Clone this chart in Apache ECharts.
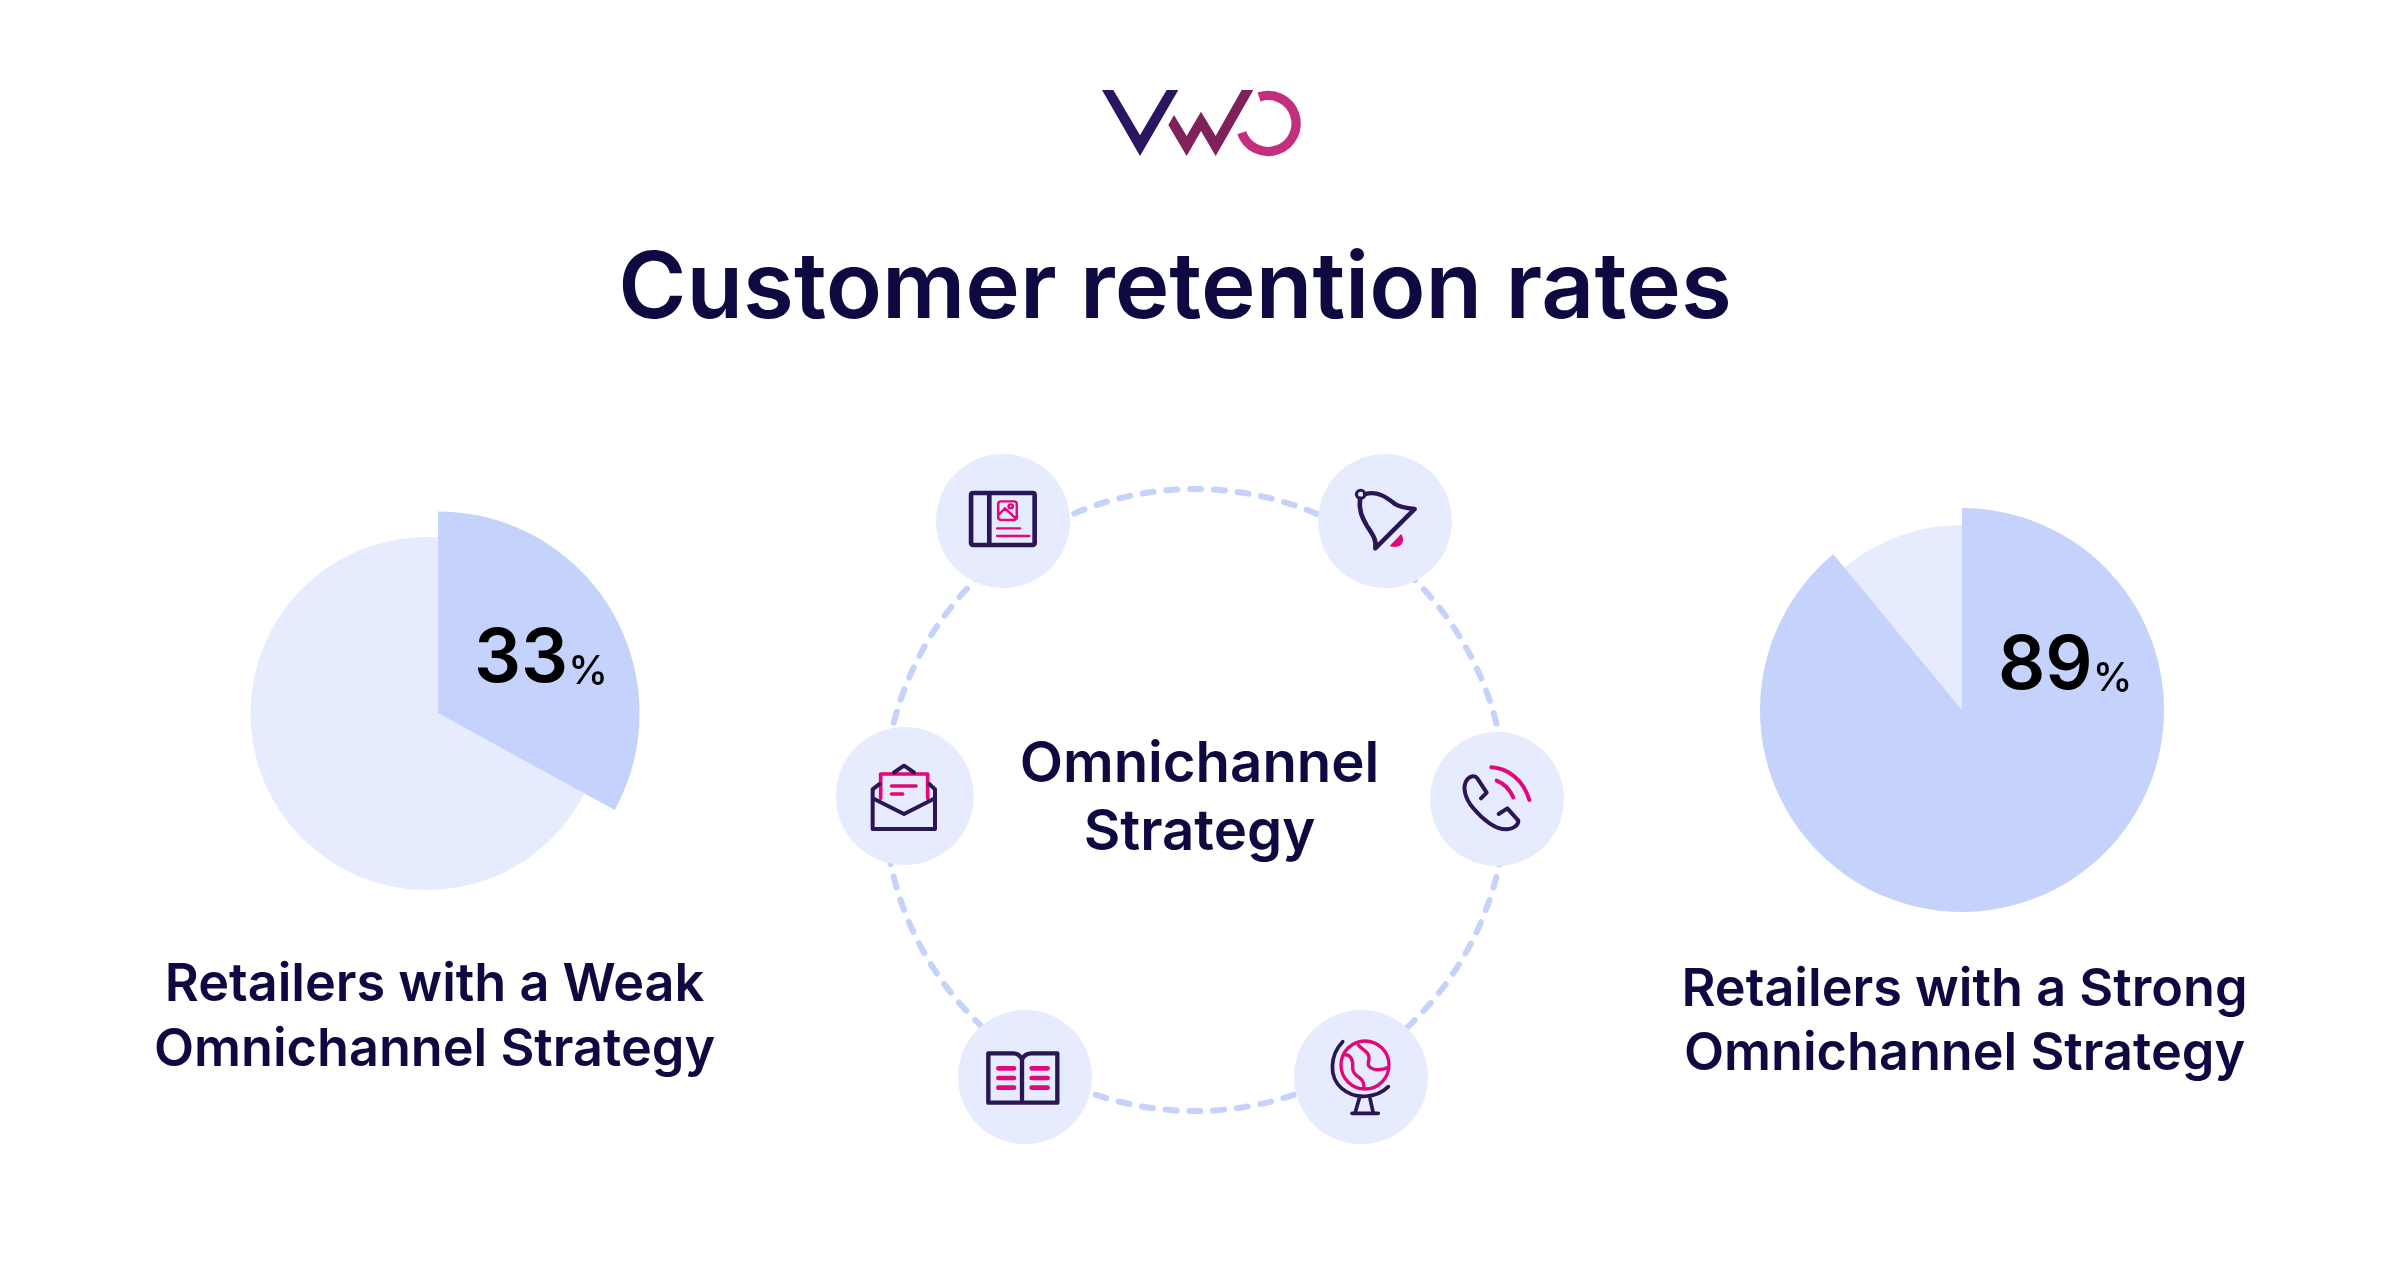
<!DOCTYPE html>
<html>
<head>
<meta charset="utf-8">
<title>Customer retention rates</title>
<script src="https://cdn.jsdelivr.net/npm/echarts@6/dist/echarts.min.js"></script>
<style>
  html, body { margin: 0; padding: 0; background: #fff; }
  #chart { width: 2400px; height: 1280px; }
</style>
</head>
<body>
<div id="chart"></div>
<script>
// chart values
var chartTitle = 'Customer retention rates'
var centerLabel = 'Omnichannel\nStrategy'
var pieLabels = ['Retailers with a Weak\nOmnichannel Strategy', 'Retailers with a Strong\nOmnichannel Strategy']
var retained = [33, 89]
var notRetained = [67, 11]

var INK = '#0e0940'
var NAVY = '#2a1555'
var PINK = '#e2077a'
var DARK_SLICE = '#c5d2fb'
var LIGHT_SLICE = '#e6ebfe'

var myChart = echarts.init(document.getElementById('chart'))

// icons are svg paths, registered as shapes so graphic can use them
var shapeCount = 0
function pathEl(d, stroke, lineWidth, fill) {
  var name = 'iconPath' + (shapeCount++)
  echarts.graphic.registerShape(name, echarts.graphic.extendPath(d, {}))
  return {
    type: name,
    silent: true,
    z: 5,
    style: {
      fill: fill || 'none',
      stroke: stroke || 'none',
      lineWidth: lineWidth || 0,
      lineCap: 'round',
      lineJoin: 'round'
    }
  }
}

// paths below were traced on zoomed crops, so groups scale them back down
function zoomGroup(x, y, children, scaleX) {
  return { type: 'group', x: x, y: y, scaleX: scaleX || 1 / 3, scaleY: 1 / 3, silent: true, children: children }
}

function disc(cx, cy, r) {
  return { type: 'circle', silent: true, z: 3, shape: { cx: cx, cy: cy, r: r }, style: { fill: LIGHT_SLICE } }
}

function textEl(x, y, text, size, weight, lineHeight) {
  return {
    type: 'text', x: x, y: y, silent: true, z: 5,
    style: {
      text: text, fill: INK, align: 'center', verticalAlign: 'middle',
      font: weight + ' ' + size + 'px Inter', lineHeight: lineHeight
    }
  }
}

function percentEl(x, y, value) {
  return {
    type: 'text', x: x, y: y, silent: true, z: 10,
    style: {
      text: '{n|' + value + '}{p|%}',
      align: 'left', verticalAlign: 'middle',
      rich: {
        n: { font: '600 74px Inter', fill: '#000', verticalAlign: 'bottom' },
        p: { font: '500 40px Inter', fill: '#000', verticalAlign: 'bottom', padding: [0, 0, 5, 0] }
      }
    }
  }
}

function pieSeries(center, radius, values, colors) {
  return {
    type: 'pie',
    center: center,
    radius: radius,
    startAngle: 90,
    clockwise: true,
    silent: true,
    animation: false,
    label: { show: false },
    labelLine: { show: false },
    emphasis: { disabled: true },
    data: values.map(function (v, i) {
      return { value: v, itemStyle: { color: colors[i] } }
    })
  }
}

var logo = zoomGroup(1040, 60, [
  { type: 'polygon', silent: true, shape: { points: [[186, 90], [220, 90], [300, 226], [380, 90], [415, 90], [300, 288]] }, style: { fill: '#2c1560' } },
  { type: 'polygon', silent: true, shape: { points: [[385, 195], [402, 165], [440, 228], [483, 155], [527, 228], [605, 90], [640, 90], [527, 288], [483, 213], [440, 288]] }, style: { fill: '#7e2259' } },
  pathEl('M657 111 A84 84 0 1 1 605 218', '#c22f7c', 28)
])
logo.children[2].style.lineCap = 'butt'

// dashed ring behind the six icon discs
var ring = {
  type: 'circle',
  silent: true,
  z: 1,
  shape: { cx: 1195, cy: 800, r: 311 },
  style: { fill: 'none', stroke: DARK_SLICE, lineWidth: 6, lineCap: 'round', lineDash: [11, 12.83], lineDashOffset: -6.4 }
}

var ringDiscs = [
  disc(1003, 521, 67),
  disc(1385, 521, 67),
  disc(904.7, 796, 69),
  disc(1497, 799, 67),
  disc(1025, 1077, 67),
  disc(1361, 1077, 67)
]

// this crop came back 2.8x wide, not 3x
var topIcons = zoomGroup(920, 440, [
  pathEl('M150 159 H315 Q321 159 321 165 V309 Q321 315 315 315 H150 Q143 315 143 309 V165 Q143 159 150 159 Z M194 159 V315', NAVY, 13),
  pathEl('M227 184 H263 Q271 184 271 192 V232 Q271 240 263 240 H227 Q219 240 219 232 V192 Q219 184 227 184 Z M220 225 L238 205 L268 235 M260 199 A6 6 0 1 1 248 199 A6 6 0 1 1 260 199 M216 265 H280 M216 288 H306', PINK, 7),
  pathEl('M1246 163 A12 12 0 1 1 1222 163 A12 12 0 1 1 1246 163', NAVY, 9),
  pathEl('M1246 163 C1280 150 1310 175 1330 192 C1345 203 1365 205 1385 207 L1275 325 C1280 300 1265 280 1250 255 C1238 232 1228 210 1232 176', NAVY, 13),
  pathEl('M1347 282 C1360 300 1350 330 1315 318 Z', null, 0, PINK)
], 1 / 2.8)

var envelopeIcon = zoomGroup(820, 710, [
  pathEl('M182 265 V192 H323 V265 M215 228 H288 M215 252 H248', PINK, 11),
  pathEl('M158 265 V357 H345 V265 M158 265 L252 312 L345 265 M158 238 V265 M345 238 V265 M158 238 L178 222 M345 238 L328 222 M222 187 L252 167 L282 187', NAVY, 12)
])

var phoneIcon = zoomGroup(1420, 710, [
  pathEl('M183 265 L200 248 L172 205 C165 195 150 198 142 208 C125 230 135 265 160 295 C185 325 225 360 262 358 C280 357 295 345 295 332 L262 295 L236 312', NAVY, 12),
  pathEl('M214 172 C265 175 310 210 328 270 M230 212 C250 220 270 240 280 262', PINK, 12)
])

var bottomIcons = zoomGroup(940, 990, [
  pathEl('M246 208 C240 195 230 190 220 190 H145 V338 H352 V190 H275 C262 190 252 195 246 208 V338', NAVY, 13),
  pathEl('M175 235 H222 M175 264 H222 M175 293 H222 M275 235 H323 M275 264 H323 M275 293 H323', PINK, 14),
  pathEl('M1347 225 A72 72 0 1 1 1203 225 A72 72 0 1 1 1347 225 M1210 195 C1235 190 1240 215 1238 235 C1240 265 1270 255 1272 290 M1255 165 C1265 180 1295 185 1285 215 C1280 240 1315 245 1345 232', PINK, 10),
  pathEl('M1208 155 C1170 195 1165 260 1205 295 C1245 330 1310 325 1345 290 M1258 325 L1245 370 M1290 325 L1300 370 M1236 370 H1315', NAVY, 11)
])

myChart.setOption({
  animation: false,
  backgroundColor: '#fff',
  series: [
    // weak strategy pie, the pale disc is smaller and sits a little to the left
    pieSeries([427, 713.5], 176.5, [retained[0], notRetained[0]], [LIGHT_SLICE, LIGHT_SLICE]),
    pieSeries([438, 713], 201.5, [retained[0], notRetained[0]], [DARK_SLICE, 'transparent']),
    // strong strategy pie
    pieSeries([1962, 710], 185, [retained[1], notRetained[1]], [LIGHT_SLICE, LIGHT_SLICE]),
    pieSeries([1962, 710], 202, [retained[1], notRetained[1]], [DARK_SLICE, 'transparent'])
  ],
  graphic: {
    elements: [logo, ring]
      .concat(ringDiscs)
      .concat([
        topIcons, envelopeIcon, phoneIcon, bottomIcons,
        textEl(1175, 290, chartTitle, 92.5, 600),
        textEl(1199.5, 799, centerLabel, 56.3, 600, 68),
        textEl(434.5, 1018, pieLabels[0], 52.2, 600, 65),
        textEl(1964.5, 1022, pieLabels[1], 52.2, 600, 64),
        percentEl(474, 660, retained[0]),
        percentEl(1998, 667, retained[1])
      ])
  }
})
</script>
</body>
</html>
